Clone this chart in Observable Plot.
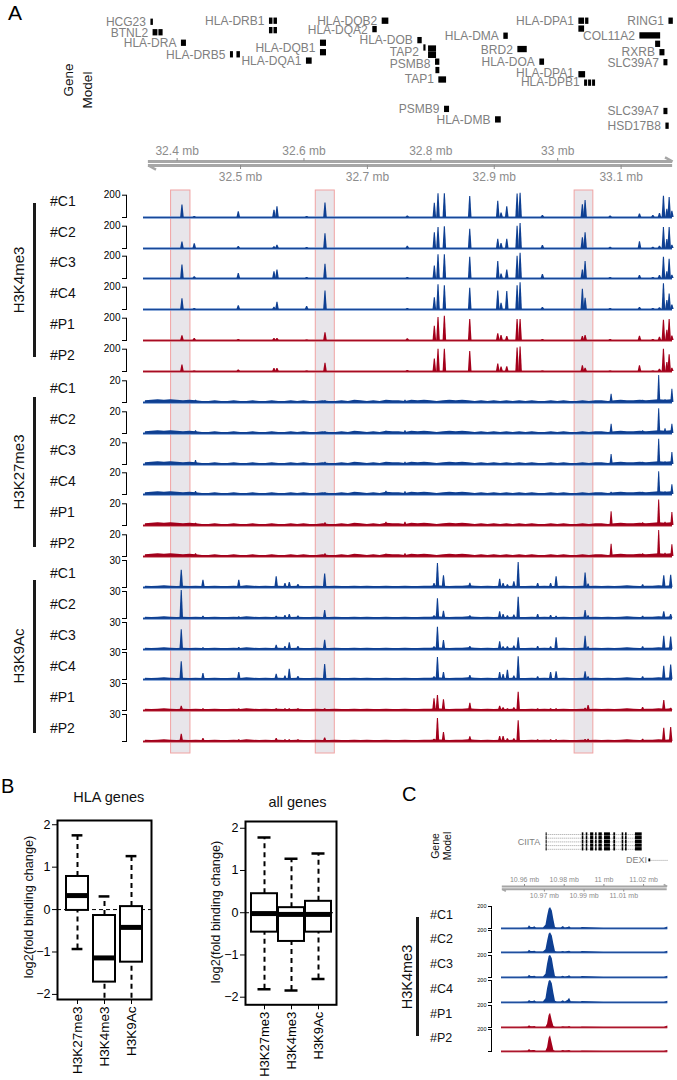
<!DOCTYPE html>
<html><head><meta charset="utf-8">
<script src="https://cdn.jsdelivr.net/npm/d3@7"></script>
<script src="https://cdn.jsdelivr.net/npm/@observablehq/plot@0.6"></script>
<style>
body{margin:0;background:#fff;}
#fig{position:relative;width:677px;height:1080px;overflow:hidden;font-family:"Liberation Sans",Arial,Helvetica,sans-serif;background:#fff;}
.lbl{position:absolute;white-space:nowrap;line-height:1;}
.bar{position:absolute;background:#1a1a1a;}
</style></head><body><div id="fig"></div>
<script>
// ---------------- DATA ----------------
// Panel A region (mb) and genomic axis ticks
const regionMb = [32.347, 33.181];
const axisLineMb = [32.3547, 33.1812];
const axisTicksTop = [32.4, 32.6, 32.8, 33];
const axisTicksBottom = [32.5, 32.7, 32.9, 33.1];
const hlStart = [32.3905, 32.6186, 33.0267];
const hlEnd = [32.4210, 32.6486, 33.0562];

// Gene model: labels
const geneName = ["HCG23","BTNL2","HLA-DRA","HLA-DRB5","HLA-DRB1","HLA-DQB1","HLA-DQA1","HLA-DQB2","HLA-DQA2","HLA-DOB","TAP2","PSMB8","TAP1","PSMB9","HLA-DMB","HLA-DMA","BRD2","HLA-DOA","HLA-DPA1","COL11A2","RING1","RXRB","SLC39A7","HLA-DPA1","HLA-DPB1","SLC39A7","HSD17B8"];
const geneStart = [32.3587,32.3621,32.4068,32.4841,32.5456,32.6260,32.6039,32.7233,32.7085,32.7795,32.7890,32.8074,32.8126,32.8216,32.9020,32.9151,32.9372,32.9719,33.0334,33.1296,33.1754,33.1612,33.1675,33.0334,33.0424,33.1675,33.1706];
const geneLabelLane = [0.1,1.1,2.1,3.2,0.0,2.55,3.8,0.0,0.85,1.85,2.95,4.05,5.5,8.4,9.4,1.43,2.75,3.9,0.0,1.45,0.0,2.95,4.0,4.95,5.85,8.6,10.0];
// Gene model: exon boxes
const boxStart = [32.3587,32.3621,32.3713,32.4068,32.4841,32.4943,32.5456,32.5527,32.5456,32.5527,32.6260,32.6260,32.6039,32.7233,32.7085,32.7795,32.7890,32.7964,32.7964,32.8074,32.8080,32.8126,32.8216,32.9020,32.9151,32.9372,32.9719,33.0334,33.0440,33.0334,33.1296,33.1754,33.1544,33.1612,33.1675,33.0334,33.0424,33.0487,33.0550,33.1675,33.1706];
const boxEnd   = [32.3626,32.3697,32.3779,32.4147,32.4888,32.4998,32.5511,32.5582,32.5511,32.5582,32.6355,32.6355,32.6129,32.7338,32.7155,32.7864,32.7924,32.8090,32.8090,32.8142,32.8142,32.8248,32.8295,32.9110,32.9221,32.9520,32.9793,33.0424,33.0492,33.0424,33.1623,33.1823,33.1623,33.1691,33.1738,33.0440,33.0472,33.0535,33.0597,33.1738,33.1758];
const boxLane  = [0.1,1.1,1.1,2.1,3.2,3.2,0.0,0.0,0.9,0.9,2.1,3.0,3.8,0.0,0.8,1.85,2.55,2.65,3.25,3.9,4.7,5.6,8.4,9.4,1.43,2.7,3.9,0.0,0.0,0.75,1.4,0.0,2.2,3.0,3.95,5.1,5.9,5.9,5.9,8.6,10.0];

const samples = ["#C1","#C2","#C3","#C4","#P1","#P2"];
const histoneMarks = ["H3K4me3","H3K27me3","H3K9Ac"];
const markTick = [200, 20, 30];

// H3K4me3 peaks (mb) and signal per sample
const k4Pos = [32.4084,32.4278,32.4972,32.5535,32.5582,32.605,32.6339,32.7637,32.8063,32.8121,32.8221,32.8621,32.9063,32.9115,32.9205,32.9368,32.9415,32.9767,33.0397,33.044,33.0834,33.1297,33.1508,33.1612,33.1675,33.1729,33.1765,33.1808];
const k4_C1 = [112,8,52,66,97,8,130,14,127,212,212,188,145,40,97,210,218,18,115,152,14,32,18,36,190,73,180,55];
const k4_C2 = [58,42,18,15,30,10,133,21,142,188,194,173,82,45,82,200,224,27,97,142,12,60,12,20,188,80,188,30];
const k4_C3 = [121,15,45,60,76,10,127,10,112,212,212,191,152,40,76,200,227,36,76,152,10,27,10,27,191,60,173,30];
const k4_C4 = [97,8,33,20,64,27,167,10,106,221,212,191,167,55,161,212,240,18,182,100,10,18,10,15,230,80,139,40];
const k4_P1 = [42,18,8,18,18,5,70,15,127,206,218,188,60,45,36,188,188,8,36,45,8,39,8,30,182,91,188,40];
const k4_P2 = [58,5,14,27,27,5,73,8,112,200,200,180,67,40,42,210,220,5,52,30,5,52,5,20,200,80,150,30];

// H3K27me3 peaks and background
const k27Pos = [32.4298,32.6339,32.7300,32.7600,33.0850,33.1347,33.1600,33.1700,33.1808];
const k27_C1 = [2,1.5,1.5,2,7.7,2,25,2.5,12.3];
const k27_C2 = [2.5,1.5,2,2.5,8.6,2.5,22.7,4.3,8.6];
const k27_C3 = [3.7,2,1.5,2,9.2,2,23.3,2.5,11];
const k27_C4 = [2.8,1.5,3,2.5,2,2,21,2.5,8.9];
const k27_P1 = [2,2.5,3,3,12.6,2.5,23.6,3,12];
const k27_P2 = [2.5,2.5,2,2.5,11.4,2.5,24,3,10.8];
const bgStart = 32.35, bgStep = 0.01; // background bins
const k27Bg = [1.5,2,2.5,2,2.5,2,1.5,2,1.5,1, 1,1.5,1,1,1.5,1,1,1.5,1,1, 1.5,1,1,1.5,1,1.5,1,1,1.5,1, 1,1.5,1,2,1.5,1,1.5,1,2,1.5, 1.5,1,2,1.5,2,1.5,1,1.5,2,1.5, 2,1.5,1,1.5,1,1.5,1,1.5,1,1.5, 1,1.5,1,1,1.5,1,1.5,1,1,1.5, 1,1.5,1.5,1,1.5,2,1.5,1.5,2,1.5, 2,2.5,2,2.5];

// H3K9Ac peaks and background
const k9Pos = [32.4073,32.4415,32.498,32.557,32.5708,32.5776,32.5913,32.6334,32.8058,32.8112,32.8207,32.8623,32.9093,32.9147,32.9215,32.9317,32.9385,32.9692,32.9896,32.9983,33.044,33.0487,33.1347,33.168,33.1789];
const k9_C1 = [19.3,8,8,12,4.5,5.5,3.3,15,4.4,26.7,13,4.8,9.3,4.5,3,6.5,27.8,4.4,4.4,12,16,4,3,13,13.7];
const k9_C2 = [31,2.5,2,2.5,3.3,4.4,2.8,8.9,3,22,8,3,7.4,4.4,3,4,23.7,4.4,3.3,2.5,8.9,3,2.5,7.4,4.4];
const k9_C3 = [22,2,2.2,4.8,3.3,7.4,3.3,10.4,3,24.8,10,3.3,8.5,3,3,4,13,3.3,3,13,14.8,3,3,14.8,14];
const k9_C4 = [19.6,6.7,7.8,5.9,4,11.5,3.3,16.7,3,24.4,7.8,4.4,7.8,5.5,10.4,4,25.2,3,7.8,8.5,8.5,3,3,14.8,16];
const k9_P1 = [4.8,2,2,2,2,2,2,2,13,16.7,11.9,8.1,4.8,3,2,3,20.4,2,2,2,2.5,5.5,3.3,11,2.5];
const k9_P2 = [8.1,3.3,2,3.3,2,2,2,4,2.5,25.6,10,5.2,5.5,5.5,3,3,23,2,2,2,2.2,2.5,2.5,14.8,15.5];
const k9Bg = [1.5,1,1.5,2,1.5,1,1.5,1,1.5,1, 1,1.5,1,1,1.5,1,2,1.5,1,1.5, 1,1.5,1,1,1.5,1,1,1.5,1,1, 1.5,1,1,1.5,1,1.5,1,1,1.5,1, 1,1.5,1,1,1.5,1.5,2,1.5,1,1.5, 1.5,2,1.5,1,1.5,1,1.5,1,1.5,1, 1,1.5,1,1.5,1,1,1.5,1,1,1.5, 1,1.5,1,1.5,1,1.5,2,1.5,1,1.5, 1.5,2,1.5,2];

// Panel B: boxplot summaries (log2 fold binding change)
const bCats = ["H3K27me3","H3K4me3","H3K9Ac"];
const hlaLo  = [-0.93,-2.3,-2.3];
const hlaQ1  = [-0.02,-1.71,-1.24];
const hlaMed = [0.33,-1.14,-0.42];
const hlaQ3  = [0.78,-0.14,0.07];
const hlaHi  = [1.75,0.31,1.26];
const allLo  = [-1.81,-1.84,-1.57];
const allQ1  = [-0.46,-0.68,-0.46];
const allMed = [-0.02,-0.04,-0.04];
const allQ3  = [0.45,0.12,0.27];
const allHi  = [1.78,1.28,1.40];
const yTicksB = [-2,-1,0,1,2];

// Panel C: CIITA locus
const cRegion = [10.9484, 11.0322];
const cAxisLine = [10.9488, 11.0319];
const cTicksTop = [10.96, 10.98, 11, 11.02];
const cTicksBottom = [10.97, 10.99, 11.01];
const ciitaSpan = [10.9709, 11.0193];
const ciitaRows = [0,1,2,3,4];
const cExonStart = [10.9709,10.9891,10.9911,10.9933,10.9958,10.9975,11.0003,11.0050,11.0092,11.0109,11.0159];
const cExonEnd   = [10.9714,10.9899,10.9919,10.9949,10.9966,10.9992,11.0033,11.0059,11.0100,11.0117,11.0193];
const dexiSpan = [11.0227, 11.0327];
const dexiExon = [11.0227, 11.0236];
const cPos = [10.9484,10.958,10.9618,10.9625,10.9633,10.9645,10.9652,10.966,10.9695,10.9708,10.9716,10.9724,10.9731,10.974,10.9748,10.9756,10.9765,10.9785,10.9795,10.9805,10.982,10.9827,10.9835,10.9885,10.9891,11.0,11.02,11.0305,11.0322];
const c_C1 = [3,3,5,25,8,10,15,4,4,30,110,175,191,160,80,10,4,4,18,5,10,16,4,4,8,3,3,3,14];
const c_C2 = [3,3,5,20,8,10,12,4,4,25,100,165,179,150,75,10,4,4,10,5,8,12,4,4,8,3,3,3,12];
const c_C3 = [3,3,5,20,8,10,12,4,4,30,120,190,203,170,85,10,4,4,12,5,10,16,4,4,10,3,3,3,12];
const c_C4 = [3,3,5,18,8,10,15,4,4,35,125,190,203,170,85,12,4,4,16,5,20,39,6,4,8,3,3,3,12];
const c_P1 = [3,3,5,16,6,6,8,3,2,2,30,110,130,60,8,2,2,3,6,4,5,8,3,3,5,3,3,3,14];
const c_P2 = [3,3,5,18,6,8,10,3,2,2,35,120,143,70,10,2,2,3,8,4,6,10,3,3,5,3,3,3,8];

// ---------------- RENDER ----------------
const fig = document.getElementById("fig");
const FONT = '"Liberation Sans", Arial, Helvetica, sans-serif';
const baseStyle = {background: "transparent", overflow: "visible", fontFamily: FONT};
const BLUE = "#0e3f92", BLUE_L = "#6a90cc", RED = "#a3001b", RED_L = "#cf6b74";
const GRAY_T = "#808080", GRAY_A = "#a6a6a6";
const intFmt = d => d < 0 ? "\u2212" + (-d) : String(d);

function place(el, left, top){ el.style.position="absolute"; el.style.left=left+"px"; el.style.top=top+"px"; fig.appendChild(el); }
function label(t, x, y, o={}){
  const d=document.createElement("div"); d.className="lbl"; d.textContent=t;
  d.style.left=x+"px"; d.style.top=y+"px"; d.style.fontSize=(o.size||12)+"px"; d.style.color=o.color||"#111";
  const tx = o.anchor==="middle"?"-50%":o.anchor==="end"?"-100%":"0";
  d.style.transform = o.rotate ? "translate(-50%,-50%) rotate(-90deg)" : `translate(${tx},-50%)`;
  fig.appendChild(d);
}
function bar(x, y1, y2, w=3){ const d=document.createElement("div"); d.className="bar"; d.style.left=(x-w/2)+"px"; d.style.top=y1+"px"; d.style.width=w+"px"; d.style.height=(y2-y1)+"px"; fig.appendChild(d); }

const xA = {domain: regionMb, range: [143, 672], axis: null};

// highlight boxes (behind tracks)
place(Plot.plot({width:677, height:563, marginTop:0, marginBottom:0, marginLeft:0, marginRight:0,
  x: xA, y:{domain:[0,1], axis:null}, style: baseStyle,
  marks:[Plot.rect(hlStart.map((s,i)=>({x1:s, x2:hlEnd[i]})), {x1:"x1", x2:"x2", y1:0, y2:1, fill:"#e8e5ea", stroke:"#f0a3a3", strokeWidth:1})]
}), 0, 190);

// gene model
const geneBoxes = boxStart.map((s,i)=>({x1:s, x2:boxEnd[i], lane:boxLane[i]}));
const geneLabels = geneName.map((n,i)=>({name:n, x:geneStart[i], lane:geneLabelLane[i]}));
place(Plot.plot({width:677, height:135, marginTop:0, marginBottom:0, marginLeft:0, marginRight:0,
  x: xA, y:{domain:[0,10], range:[20.7,125.7], axis:null}, style: baseStyle,
  marks:[
    Plot.rect(geneBoxes, {x1:"x1", x2:"x2", y1:d=>d.lane-0.3, y2:d=>d.lane+0.3, fill:"#000"}),
    Plot.text(geneLabels, {x:"x", y:"lane", text:"name", textAnchor:"end", dx:-5, fill:GRAY_T, fontSize:12})
  ]
}), 0, 0);
label("Gene", 68.5, 79.5, {size:13.5, rotate:true});
label("Model", 87.5, 89.5, {size:13.5, rotate:true});

// genomic axis
function genomeAxis(line, ticksT, ticksB, fs, tsT, tsB, barb, rise, gap, sw){
  return [
    Plot.ruleY([0], {x1:line[0], x2:line[1], dy:-gap, stroke:GRAY_A, strokeWidth:sw}),
    Plot.ruleY([0], {x1:line[0], x2:line[1], dy:gap, stroke:GRAY_A, strokeWidth:sw}),
    Plot.link([{a:line[1], b:line[1]-barb}], {x1:"a", x2:"b", y1:0, y2:rise, dy:-gap, stroke:GRAY_A, strokeWidth:sw*0.85}),
    Plot.link([{a:line[0], b:line[0]+barb}], {x1:"a", x2:"b", y1:0, y2:-rise, dy:gap, stroke:GRAY_A, strokeWidth:sw*0.85}),
    Plot.axisX({anchor:"top", ticks:ticksT, tickFormat:d=>`${d} mb`, tickSize:tsT, tickPadding:fs>9?3:1.5, fontSize:fs, color:"#8c8c8c"}),
    Plot.axisX({anchor:"bottom", ticks:ticksB, tickFormat:d=>`${d} mb`, tickSize:tsB, tickPadding:fs>9?3:1.5, fontSize:fs, color:"#8c8c8c"})
  ];
}
place(Plot.plot({width:677, height:55, marginTop:25, marginBottom:25, marginLeft:0, marginRight:0,
  x:{domain:regionMb, range:[143,672]}, y:{domain:[-1,1], range:[40,16], axis:null}, style: baseStyle,
  marks: genomeAxis(axisLineMb, axisTicksTop, axisTicksBottom, 12, 3, 4, 0.012, 0.35, 2, 3)
}), 0, 135);

// tracks
const groups = [
  {pos:k4Pos, vals:[k4_C1,k4_C2,k4_C3,k4_C4,k4_P1,k4_P2], bg:null, tickPx:22.3, hw:0.0028},
  {pos:k27Pos, vals:[k27_C1,k27_C2,k27_C3,k27_C4,k27_P1,k27_P2], bg:k27Bg, tickPx:21.7, hw:0.0025},
  {pos:k9Pos, vals:[k9_C1,k9_C2,k9_C3,k9_C4,k9_P1,k9_P2], bg:k9Bg, tickPx:27, hw:0.0028}
];
function trackPlot(pos, vals, bg, tick, tickPx, hw, fill, line){
  const H = 40;
  const pts = [];
  pos.forEach((p,i)=>{ const v=vals[i]; pts.push({k:i,x:p-hw,y:0},{k:i,x:p-hw*0.3,y:v},{k:i,x:p+hw*0.3,y:v},{k:i,x:p+hw,y:0}); });
  const marks = [Plot.ruleY([0], {x1:regionMb[0], x2:regionMb[1], stroke:line, strokeWidth:2.4})];
  if (bg) marks.push(Plot.areaY(bg.map((v,i)=>({x:bgStart+i*bgStep, y:v})), {x:"x", y:"y", fill}));
  marks.push(Plot.areaY(pts, {x:"x", y:"y", z:"k", fill}));
  marks.push(Plot.ruleY([0], {x1:regionMb[0], x2:regionMb[1], stroke:fill, strokeWidth:0.9}));
  marks.push(Plot.frame({anchor:"left", stroke:"#000"}));
  marks.push(Plot.axisY({ticks:[0,tick], tickSize:4, tickPadding:2, fontSize:10, tickFormat:d=>d===0?"":String(d), label:null}));
  return Plot.plot({width:677, height:H, marginLeft:126, marginRight:5, marginTop:H-1-tickPx, marginBottom:1,
    x: xA, y:{domain:[0,tick]}, style: baseStyle, marks});
}
const base0 = 216.7, pitch = 30.85;
groups.forEach((g,gi)=>{
  g.vals.forEach((vals,si)=>{
    const row = gi*6+si, baseline = base0 + row*pitch;
    const ctrl = si < 4;
    place(trackPlot(g.pos, vals, g.bg, markTick[gi], g.tickPx, g.hw, ctrl?BLUE:RED, ctrl?BLUE_L:RED_L), 0, baseline-39);
    label(samples[si], 50, baseline-(gi===0?16:13.5), {size:14});
  });
});
const grpBar = [[203,357],[397,547],[580,733]];
const grpCenter = [280, 472, 656];
histoneMarks.forEach((m,i)=>{ bar(34.5, grpBar[i][0], grpBar[i][1], 3); label(m, 18, grpCenter[i], {size:15, rotate:true}); });
label("A", 8, 12, {size:21, color:"#000"});

// ---------------- Panel B ----------------
function boxPlot(lo,q1,med,q3,hi, o){
  const data = bCats.map((c,i)=>({cat:c, lo:lo[i], q1:q1[i], med:med[i], q3:q3[i], hi:hi[i]}));
  const bw = o.bw;
  return Plot.plot({width:o.width, height:o.height, marginLeft:o.mL, marginRight:o.mR, marginTop:o.mT, marginBottom:o.mB,
    x:{type:"band", domain:bCats, paddingInner:o.pIn, paddingOuter:o.pOut},
    y:{domain:o.yDomain},
    style:{...baseStyle, color:"#000"},
    marks:[
      Plot.ruleY([0], {strokeDasharray:"4,3", strokeWidth:1}),
      Plot.ruleX(data, {x:"cat", y1:"q3", y2:"hi", strokeDasharray:"5,4", strokeWidth:2, clip:true}),
      Plot.ruleX(data, {x:"cat", y1:"lo", y2:"q1", strokeDasharray:"5,4", strokeWidth:2, clip:true}),
      Plot.tickY(data, {x:"cat", y:"hi", strokeWidth:2.5, insetLeft:bw/4, insetRight:bw/4, clip:true}),
      Plot.tickY(data, {x:"cat", y:"lo", strokeWidth:2.5, insetLeft:bw/4, insetRight:bw/4, clip:true}),
      Plot.barY(data, {x:"cat", y1:"q1", y2:"q3", fill:"#fff", stroke:"#000", strokeWidth:2}),
      Plot.tickY(data, {x:"cat", y:"med", strokeWidth:5}),
      Plot.frame({strokeWidth:2}),
      Plot.axisY({ticks:yTicksB, tickFormat:intFmt, tickSize:5, tickPadding:2, fontSize:12.5, label:null}),
      Plot.axisX({tickRotate:-90, tickSize:5, tickPadding:2, fontSize:o.catFs, label:null})
    ]});
}
place(boxPlot(hlaLo,hlaQ1,hlaMed,hlaQ3,hlaHi, {width:170, height:270, mL:57, mR:19, mT:10, mB:81, pIn:0.2, pOut:0.28, yDomain:[-2.12,2.1], bw:22.4, catFs:13.5}), 0, 810);
place(boxPlot(allLo,allQ1,allMed,allQ3,allHi, {width:170, height:270, mL:65, mR:14, mT:11, mB:75.7, pIn:0.055, pOut:0.17, yDomain:[-2.18,2.16], bw:26, catFs:13}), 180, 810);
label("HLA genes", 108.8, 797, {size:14.5, anchor:"middle"});
label("all genes", 297.5, 801.7, {size:14.5, anchor:"middle"});
label("log2(fold binding change)", 29, 906.7, {size:12.7, rotate:true});
label("log2(fold binding change)", 216, 911.7, {size:12.7, rotate:true});
label("B", 1, 786, {size:20, color:"#000"});

// ---------------- Panel C ----------------
label("C", 402, 794, {size:20, color:"#000"});
const xC = {domain:cRegion, range:[501,667.3], axis:null};
const ciitaExons = [];
ciitaRows.forEach(r=>cExonStart.forEach((s,i)=>ciitaExons.push({x1:s, x2:cExonEnd[i], r})));
place(Plot.plot({width:677, height:50, marginTop:0, marginBottom:0, marginLeft:0, marginRight:0,
  x: xC, y:{domain:[0,7], range:[14,39.9], axis:null}, style: baseStyle,
  marks:[
    Plot.ruleY(ciitaRows, {y:d=>d, x1:ciitaSpan[0], x2:ciitaSpan[1], stroke:"#9a9a9a", strokeWidth:0.8, strokeDasharray:"1.2,0.8"}),
    Plot.rect(ciitaExons, {x1:"x1", x2:"x2", y1:d=>d.r-0.45, y2:d=>d.r+0.45, fill:"#000"}),
    Plot.text([{x:ciitaSpan[0], y:2, t:"CIITA"}], {x:"x", y:"y", text:"t", textAnchor:"end", dx:-6, fontSize:9, fill:GRAY_T}),
    Plot.ruleY([7], {x1:dexiSpan[0], x2:dexiSpan[1], stroke:"#9a9a9a", strokeWidth:0.8, strokeDasharray:"1.2,0.8"}),
    Plot.rect([{x1:dexiExon[0], x2:dexiExon[1]}], {x1:"x1", x2:"x2", y1:6.6, y2:7.4, fill:"#000"}),
    Plot.text([{x:dexiSpan[0], y:7, t:"DEXI"}], {x:"x", y:"y", text:"t", textAnchor:"end", dx:-2, fontSize:9, fill:GRAY_T})
  ]
}), 0, 820);
label("Gene", 435, 846, {size:10.5, rotate:true});
label("Model", 446.7, 846, {size:10.5, rotate:true});
place(Plot.plot({width:677, height:45, marginTop:20, marginBottom:20.5, marginLeft:0, marginRight:0,
  x:{domain:cRegion, range:[501,667.3]}, y:{domain:[-1,1], range:[26.35,18.35], axis:null}, style: baseStyle,
  marks: genomeAxis(cAxisLine, cTicksTop, cTicksBottom, 7, 2, 2, 0.0018, 0.5, 1.3, 2)
}), 0, 865);
const cVals = [c_C1,c_C2,c_C3,c_C4,c_P1,c_P2];
cVals.forEach((vals,si)=>{
  const baseline = 927.7 + si*24.7, ctrl = si<4, fill = ctrl?BLUE:RED, line = ctrl?BLUE_L:RED_L;
  const pts = cPos.map((p,i)=>({x:p, y:vals[i]}));
  place(Plot.plot({width:677, height:30, marginLeft:491, marginRight:5, marginTop:7, marginBottom:1,
    x: xC, y:{domain:[0,200]}, style: baseStyle,
    marks:[
      Plot.ruleY([0], {x1:cRegion[0], x2:cRegion[1], stroke:line, strokeWidth:2}),
      Plot.areaY(pts, {x:"x", y:"y", fill}),
      Plot.ruleY([0], {x1:cRegion[0], x2:cRegion[1], stroke:fill, strokeWidth:0.8}),
      Plot.frame({anchor:"left", stroke:"#000"}),
      Plot.axisY({ticks:[0,200], tickSize:3, tickPadding:2, fontSize:5.5, tickFormat:d=>d===0?"":String(d), label:null})
    ]}), 0, baseline-29);
  label(samples[si], 430, baseline-13, {size:12.5});
});
bar(417.7, 916.7, 1036, 3);
label("H3K4me3", 406.7, 977, {size:14.5, rotate:true});
</script></body></html>
